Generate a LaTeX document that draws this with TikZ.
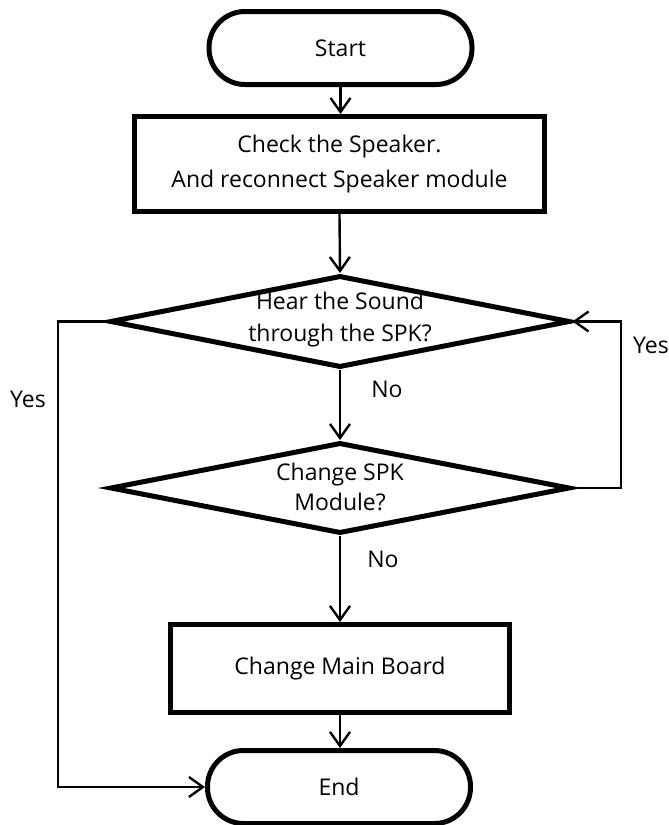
\documentclass[tikz,border=0pt]{standalone}
\usepackage{fontspec}
\newfontfamily\lblfont{Open Sans}
\usetikzlibrary{shapes.geometric,arrows.meta}
\begin{document}
\begin{tikzpicture}[x=1pt,y=-1pt,
  every node/.style={font=\lblfont\fontsize{23}{32}\selectfont, text=black},
  term/.style={draw, line width=5pt, rectangle, rounded corners=36pt, minimum width=263pt, minimum height=73pt, inner sep=0pt},
  proc/.style={draw, line width=5pt, rectangle, inner sep=0pt, align=center},
  dec/.style={draw, line width=5pt, diamond, inner sep=0pt},
  conn/.style={line width=2.4pt},
  arr/.style={conn, -{Straight Barb[length=14pt,width=20pt,line width=2.4pt]}},
  txt/.style={align=center, inner sep=0pt}
]
\useasboundingbox (0,0) rectangle (669,825);
\node[term] (start) at (340.5,48) {Start};
\node[proc, minimum width=410pt, minimum height=95pt, font=\lblfont\fontsize{23}{35}\selectfont] (chk) at (339.5,164) {Check the Speaker.\\And reconnect Speaker module};
\node[dec, minimum width=460pt, minimum height=92pt] (d1) at (340,321.5) {};
\node[txt] (d1t) at (340,320) {Hear the Sound\\through the SPK?};
\node[dec, minimum width=460pt, minimum height=91pt] (d2) at (340,488) {};
\node[txt, font=\lblfont\fontsize{23}{30}\selectfont] (d2t) at (340,487) {Change SPK\\Module?};
\node[proc, minimum width=339pt, minimum height=88pt] (mb) at (340,668.5) {Change Main Board};
\node[term] (end) at (339,787) {End};

\coordinate (lt) at (58,321.5);
\coordinate (lb) at (58,787);
\coordinate (rb) at (621,488);
\coordinate (rt) at (621,321.5);

\draw[arr] (start.south) -- (start.south |- chk.north);
\draw[arr] (chk.south) -- (d1.north);
\draw[arr] (d1.south) -- (d2.north);
\draw[arr] (d2.south) -- (mb.north);
\draw[arr] (mb.south) -- (end.north -| mb.south);
\draw[arr] (d1.west) -- (lt) -- (lb) -- (end.west);
\draw[arr] (d2.east) -- (rb) -- (rt) -- (d1.east);

\node[txt] (no1) at (387,389) {No};
\node[txt] (no2) at (383,559) {No};
\node[txt] (yesl) at (28,399) {Yes};
\node[txt] (yesr) at (651,345) {Yes};
\end{tikzpicture}
\end{document}
